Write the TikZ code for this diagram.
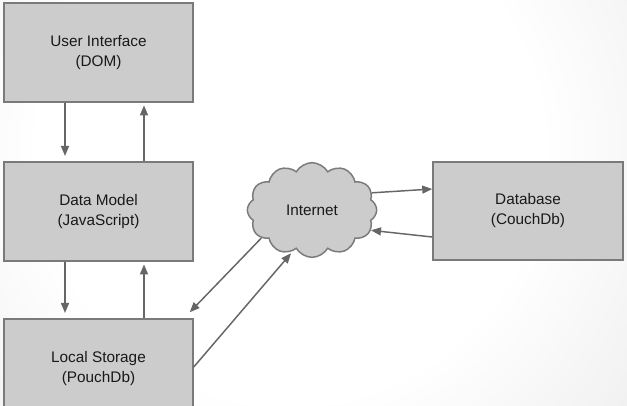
\documentclass[tikz,border=0pt]{standalone}
\usepackage{fontspec}
\setmainfont{Liberation Sans}
\usetikzlibrary{arrows.meta,shapes.symbols,calc}

\definecolor{boxfill}{HTML}{CCCCCC}
\definecolor{boxline}{HTML}{7A7A7A}
\definecolor{arrowgray}{HTML}{666666}
\definecolor{bggray}{HTML}{DCDCDC}
\pgfdeclareradialshading{bgglow}{\pgfpoint{0bp}{0bp}}{color(0bp)=(white); color(15bp)=(white); color(40bp)=(bggray); color(50bp)=(bggray)}

\begin{document}
\begin{tikzpicture}[x=0.75pt,y=0.75pt,yscale=-1,xscale=1,
	block/.style={draw=boxline,fill=boxfill,line width=1.1pt,minimum width=141.75pt,minimum height=74.25pt,align=center,inner sep=0pt,font=\fontsize{11.5}{15}\selectfont,text=black!90},
	cloudnode/.style={cloud,cloud puffs=12,cloud puff arc=120,aspect=1.4,draw=boxline,fill=boxfill,line width=1.1pt,minimum width=97pt,minimum height=71pt,inner sep=0pt,font=\fontsize{11.5}{15}\selectfont,text=black!90},
	flow/.style={draw=arrowgray,line width=1.1pt,-{Triangle[length=7.5pt,width=6pt]}}]
	\useasboundingbox (0,0) rectangle (627,405);
	\clip (0,0) rectangle (627,405);

	% Background
	\shade[shading=bgglow] (-130,-270) rectangle (710,570);

	% Blocks
	\node[block] (ui) at (98.5,52.5) {User Interface\\(DOM)};
	\node[block] (dm) at (98.5,211.5) {Data Model\\(JavaScript)};
	\node[block] (ls) at (98.5,368.5) {Local Storage\\(PouchDb)};
	\node[block,minimum width=142.5pt,minimum height=73.5pt] (db) at (528,211) {Database\\(CouchDb)};
	% Cloud
	\node[cloudnode] (inet) at (312,210) {Internet};

	% Connection
	\draw[flow,shorten >=4pt] (65,0 |- ui.south) -- (65,0 |- dm.north);
	\draw[flow,shorten >=2pt] (144,0 |- dm.north) -- (144,0 |- ui.south);
	\draw[flow,shorten >=4pt] (65,0 |- dm.south) -- (65,0 |- ls.north);
	\draw[flow,shorten >=2pt] (144,0 |- ls.north) -- (144,0 |- dm.south);
	% Connection
	\draw[flow] (inet.209) -- ($(ls.north east)+(-4,-6)$);
	\draw[flow,shorten >=2pt] (ls.east |- 0,367) -- (inet.245);
	% Connection
	\draw[flow] (inet.16) -- (db.west |- 0,189);
	\draw[flow] (db.west |- 0,237) -- (inet.-19);

\end{tikzpicture}
\end{document}
